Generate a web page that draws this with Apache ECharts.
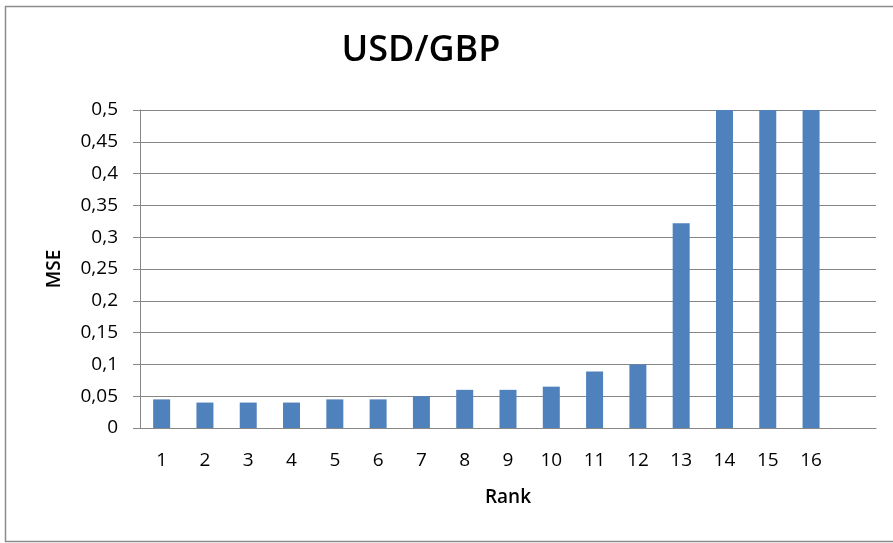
<!DOCTYPE html>
<html>
<head>
<meta charset="utf-8">
<script src="https://cdn.jsdelivr.net/npm/echarts@6/dist/echarts.min.js"></script>
<style>
html,body{margin:0;padding:0;background:#fff;}
#chart{width:893px;height:543px;}
</style>
</head>
<body>
<div id="chart"></div>
<script>
const titleText = 'USD/GBP';
const categories = ['1','2','3','4','5','6','7','8','9','10','11','12','13','14','15','16',''];
const mseValues = [0.045,0.04,0.04,0.04,0.045,0.045,0.05,0.06,0.06,0.065,0.089,0.1,0.322,0.5,0.5,0.5,null];
const yTicks = [0,0.05,0.1,0.15,0.2,0.25,0.3,0.35,0.4,0.45,0.5];

const chart = echarts.init(document.getElementById('chart'), null, {renderer:'canvas'});
const fontFam = '"Open Sans", "DejaVu Sans", sans-serif';
chart.setOption({
  animation:false,
  backgroundColor:'#ffffff',
  title:{
    text:titleText,
    left:416, top:28, textAlign:'center',
    textStyle:{fontFamily:fontFam, fontSize:36, fontWeight:600, color:'#000'}
  },
  graphic:[{
    type:'rect', shape:{x:5.5,y:6.5,width:900,height:535},
    style:{fill:'none', stroke:'#8c8c8c', lineWidth:1.5}, silent:true
  }],
  grid:{left:140, right:17, top:110, bottom:115, containLabel:false},
  xAxis:{
    type:'category', data:categories,
    name:'Rank', nameLocation:'middle', nameGap:60,
    nameTextStyle:{fontFamily:fontFam, fontSize:19, fontWeight:600, color:'#000'},
    axisLine:{lineStyle:{color:'#868686', width:1}},
    axisTick:{show:false},
    axisLabel:{fontFamily:fontFam, fontSize:19, color:'#000', margin:23, interval:0}
  },
  yAxis:{
    type:'value', min:0, max:0.5, interval:0.05,
    name:'MSE', nameLocation:'middle', nameGap:76,
    nameTextStyle:{fontFamily:fontFam, fontSize:19, fontWeight:600, color:'#000'},
    axisLine:{show:true, lineStyle:{color:'#868686', width:1}},
    axisTick:{show:true, length:7, inside:false, lineStyle:{color:'#868686'}},
    splitLine:{show:true, lineStyle:{color:'#868686', width:1}},
    axisLabel:{fontFamily:fontFam, fontSize:19, color:'#000', margin:22,
      formatter:function(v){ return String(Math.round(v*100)/100).replace('.',','); }}
  },
  series:[{
    type:'bar', data:mseValues, barWidth:17,
    itemStyle:{color:'#4F81BD'}
  }]
});
</script>
</body>
</html>
